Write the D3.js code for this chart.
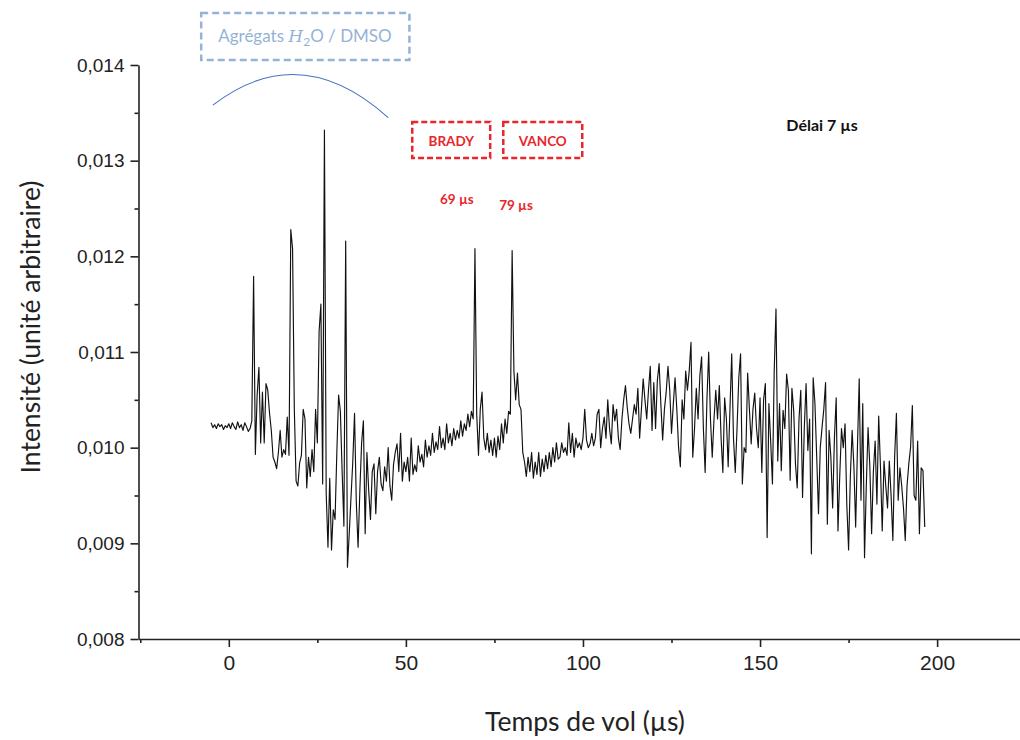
<!DOCTYPE html>
<html><head><meta charset="utf-8">
<script src="https://cdn.jsdelivr.net/npm/d3@7"></script>
<style>
html,body{margin:0;padding:0;background:#fff;}
svg{display:block;}
</style></head>
<body>
<svg id="c" width="1020" height="740"></svg>
<script>
// ---- Data ----
const timeStart = -5;      // µs, first sample
const timeStep = 0.5;      // µs between samples
const intensity = [
 0.01026,0.01021,0.01024,0.01020,0.01025,0.01022,0.01024,0.01019,0.01023,0.01021,
 0.01025,0.01020,0.01026,0.01022,0.01019,0.01027,0.01021,0.01024,0.01018,0.01026,
 0.01022,0.01017,0.01020,0.01028,0.01179,0.00993,0.01055,0.01084,0.01005,0.01058,
 0.01005,0.01067,0.01060,0.01036,0.01018,0.00990,0.00985,0.00978,0.00995,0.01018,
 0.00990,0.00998,0.00993,0.01032,0.00992,0.01228,0.01208,0.01040,0.00965,0.00960,
 0.00984,0.00992,0.01040,0.01030,0.00958,0.00990,0.00970,0.00998,0.00975,0.01040,
 0.01005,0.01122,0.01150,0.00962,0.01332,0.00952,0.00896,0.00968,0.00893,0.00935,
 0.00925,0.00995,0.01055,0.01038,0.00975,0.00918,0.01216,0.00875,0.00910,0.00948,
 0.00985,0.01036,0.00943,0.00896,0.00955,0.01005,0.01028,0.00910,0.00995,0.00955,
 0.00925,0.00975,0.00983,0.00931,0.00975,0.00990,0.00962,0.00955,0.00980,0.00965,
 0.01000,0.00960,0.00945,0.00982,0.00995,0.01004,0.00975,0.01015,0.00965,0.00985,
 0.00975,0.00990,0.00965,0.01010,0.00972,0.00982,0.00975,0.01002,0.00985,0.00993,
 0.00980,0.01008,0.00990,0.01002,0.00992,0.01015,0.00995,0.01006,0.00998,0.01022,
 0.01000,0.01010,0.00998,0.01025,0.01005,0.01015,0.01002,0.01020,0.01008,0.01018,
 0.01010,0.01028,0.01012,0.01025,0.01018,0.01035,0.01022,0.01038,0.01030,0.01208,
 0.01035,0.00992,0.01040,0.01058,0.01010,0.00998,0.01015,0.00995,0.01008,0.00992,
 0.01010,0.00990,0.01012,0.00998,0.01025,0.01005,0.01030,0.01015,0.01038,0.01035,
 0.01206,0.01080,0.01050,0.01078,0.01045,0.01040,0.00995,0.00985,0.00970,0.00990,
 0.00975,0.00995,0.00968,0.00985,0.00972,0.00995,0.00970,0.00988,0.00975,0.00992,
 0.00978,0.00995,0.00980,0.01000,0.00985,0.01005,0.00988,0.00990,0.01005,0.00995,
 0.01000,0.00992,0.01026,0.00995,0.01015,0.00990,0.01010,0.01000,0.01005,0.00998,
 0.01010,0.01040,0.01008,0.01000,0.01004,0.01015,0.01002,0.01010,0.01035,0.01040,
 0.01000,0.01020,0.01032,0.01010,0.01050,0.01020,0.01004,0.01045,0.01028,0.01040,
 0.01010,0.00998,0.01030,0.01050,0.01065,0.01042,0.01025,0.01015,0.01030,0.01045,
 0.01035,0.01062,0.01010,0.01040,0.01072,0.01050,0.01030,0.01060,0.01085,0.01018,
 0.01068,0.01020,0.01070,0.01088,0.01045,0.01008,0.01040,0.01058,0.01085,0.01060,
 0.01015,0.01045,0.01073,0.01040,0.01000,0.00980,0.01050,0.01030,0.01080,0.01060,
 0.01080,0.01110,0.00990,0.01020,0.01062,0.01030,0.01075,0.01095,0.01020,0.00974,
 0.01050,0.01100,0.01030,0.00990,0.01030,0.01060,0.01030,0.01065,0.01010,0.00974,
 0.01052,0.01030,0.00980,0.01040,0.01098,0.01010,0.00974,0.01020,0.01073,0.01098,
 0.00962,0.01000,0.00995,0.01078,0.01040,0.01004,0.01040,0.01057,0.01020,0.01000,
 0.01052,0.00974,0.01050,0.01067,0.00906,0.01046,0.01007,0.00962,0.01080,0.01145,
 0.00986,0.01046,0.00976,0.01039,0.01020,0.01077,0.01060,0.00966,0.01062,0.01039,
 0.00983,0.00958,0.01030,0.01060,0.00948,0.01021,0.01067,0.00997,0.01030,0.00889,
 0.01073,0.01046,0.00990,0.00931,0.01000,0.01021,0.01040,0.01068,0.00920,0.01018,
 0.00990,0.00937,0.01010,0.01052,0.00913,0.00970,0.01020,0.01000,0.01025,0.00940,
 0.00893,0.00970,0.01018,0.00980,0.00917,0.01000,0.01072,0.00945,0.01046,0.00885,
 0.00960,0.01021,0.00980,0.00910,0.00975,0.01007,0.00941,0.01033,0.00980,0.00913,
 0.00986,0.00960,0.00937,0.00986,0.00950,0.00903,0.00990,0.01036,0.00945,0.00979,
 0.00960,0.00937,0.00903,0.00960,0.00983,0.01000,0.01044,0.00950,0.00945,0.01007,
 0.00910,0.00979,0.00976,0.00917
];
const xTicks = [0, 50, 100, 150, 200];
const xMinorTicks = [-25, 25, 75, 125, 175];
const yTicks = [0.008, 0.009, 0.010, 0.011, 0.012, 0.013, 0.014];
const yMinorTicks = [0.0085, 0.0095, 0.0105, 0.0115, 0.0125, 0.0135];
const xTitle = "Temps de vol (µs)";
const yTitle = "Intensité (unité arbitraire)";
const peakLabels = [ {t: 64.4, v: 0.01260, text: "69 µs"}, {t: 81.1, v: 0.012535, text: "79 µs"} ];
const boxLabels = [ {t0: 51.8, t1: 73.8, text: "BRADY"}, {t0: 77.5, t1: 99.8, text: "VANCO"} ];

// ---- Scales ----
const svg = d3.select("#c");
const x = d3.scaleLinear().domain([-25.5, 223.4]).range([138.5, 1020]);
const y = d3.scaleLinear().domain([0.008, 0.014]).range([639, 65]);
const fmt = v => d3.format(".3f")(v).replace(".", ",");

// ---- Axes ----
const gy = svg.append("g").attr("transform", `translate(${x.range()[0]},0)`);
gy.call(d3.axisLeft(y).tickValues(yTicks).tickFormat(fmt).tickSize(8).tickSizeOuter(0).tickPadding(6));
gy.append("g").call(d3.axisLeft(y).tickValues(yMinorTicks).tickFormat("").tickSize(4).tickSizeOuter(0)).select(".domain").remove();
gy.selectAll("text").attr("font-family", "'Liberation Sans', Arial, sans-serif").attr("font-size", 19).attr("fill", "#222");
gy.selectAll("line,path").attr("stroke", "#222").attr("stroke-width", 1.6);

const gx = svg.append("g").attr("transform", `translate(0,${y.range()[0]})`);
gx.call(d3.axisBottom(x).tickValues(xTicks).tickFormat(d3.format("d")).tickSize(8).tickSizeOuter(0).tickPadding(8));
gx.append("g").call(d3.axisBottom(x).tickValues(xMinorTicks).tickFormat("").tickSize(4).tickSizeOuter(0)).select(".domain").remove();
gx.selectAll("text").attr("font-family", "'Liberation Sans Narrow', 'Arial Narrow', sans-serif").attr("font-size", 21).attr("fill", "#222");
gx.selectAll("line,path").attr("stroke", "#222").attr("stroke-width", 1.6);

// ---- Signal ----
const pts = intensity.map((v, i) => [timeStart + i * timeStep, v]);
svg.append("path").datum(pts)
  .attr("fill", "none").attr("stroke", "#111").attr("stroke-width", 1.15).attr("stroke-linejoin", "round")
  .attr("d", d3.line().x(d => x(d[0])).y(d => y(d[1])));

// ---- Titles ----
svg.append("text").attr("x", 585).attr("y", 731).attr("text-anchor", "middle")
  .attr("font-family", "Lato, 'Open Sans', sans-serif").attr("font-size", 26.5).attr("fill", "#222").text(xTitle);
svg.append("text").attr("transform", "translate(40,327) rotate(-90)").attr("text-anchor", "middle")
  .attr("font-family", "Lato, 'Open Sans', sans-serif").attr("font-size", 26.5).attr("fill", "#222").text(yTitle);

// ---- Annotations ----
const blue = "#95b3d7";
const ag = svg.append("g");
ag.append("rect").attr("x", x(-7.8)).attr("y", y(0.014544)).attr("width", x(51) - x(-7.8)).attr("height", y(0.014052) - y(0.014544))
  .attr("fill", "none").attr("stroke", blue).attr("stroke-width", 2.5).attr("stroke-dasharray", "7,4");
const at = ag.append("text").attr("x", x(21.5)).attr("y", y(0.014298) + 5.5).attr("text-anchor", "middle")
  .attr("font-family", "Lato, 'Open Sans', sans-serif").attr("font-size", 17).attr("fill", blue);
at.append("tspan").text("Agrégats ");
at.append("tspan").attr("font-family", "'DejaVu Serif', serif").attr("font-style", "italic").text("H");
at.append("tspan").attr("font-size", 12).attr("dy", 4).text("2");
at.append("tspan").attr("dy", -4).text("O / DMSO");

// arc over the cluster peaks
const p0 = [x(-4.5), y(0.01358)], p2 = [x(45), y(0.01345)], pc = [x(20), y(0.01428)];
const arc = d3.path(); arc.moveTo(p0[0], p0[1]); arc.quadraticCurveTo(pc[0], pc[1], p2[0], p2[1]);
svg.append("path").attr("d", arc.toString()).attr("fill", "none").attr("stroke", "#4472c4").attr("stroke-width", 1.1);

const red = "#e8262b";
boxLabels.forEach(b => {
  svg.append("rect").attr("x", x(b.t0)).attr("y", y(0.013404)).attr("width", x(b.t1) - x(b.t0)).attr("height", y(0.013028) - y(0.013404))
    .attr("fill", "none").attr("stroke", red).attr("stroke-width", 2.5).attr("stroke-dasharray", "6,3");
  svg.append("text").attr("x", (x(b.t0) + x(b.t1)) / 2).attr("y", y(0.013206) + 5).attr("text-anchor", "middle")
    .attr("font-family", "Lato, 'Open Sans', sans-serif").attr("font-weight", "bold").attr("font-size", 13.5).attr("fill", red).text(b.text);
});
peakLabels.forEach(p => {
  svg.append("text").attr("x", x(p.t)).attr("y", y(p.v) + 5).attr("text-anchor", "middle")
    .attr("font-family", "Lato, 'Open Sans', sans-serif").attr("font-weight", "bold").attr("font-size", 13.5).attr("fill", red).text(p.text);
});
svg.append("text").attr("x", x(167.5)).attr("y", y(0.01337) + 5.5).attr("text-anchor", "middle")
  .attr("font-family", "Lato, 'Open Sans', sans-serif").attr("font-weight", "bold").attr("font-size", 16).attr("fill", "#111").text("Délai 7 µs");
</script>
</body></html>
